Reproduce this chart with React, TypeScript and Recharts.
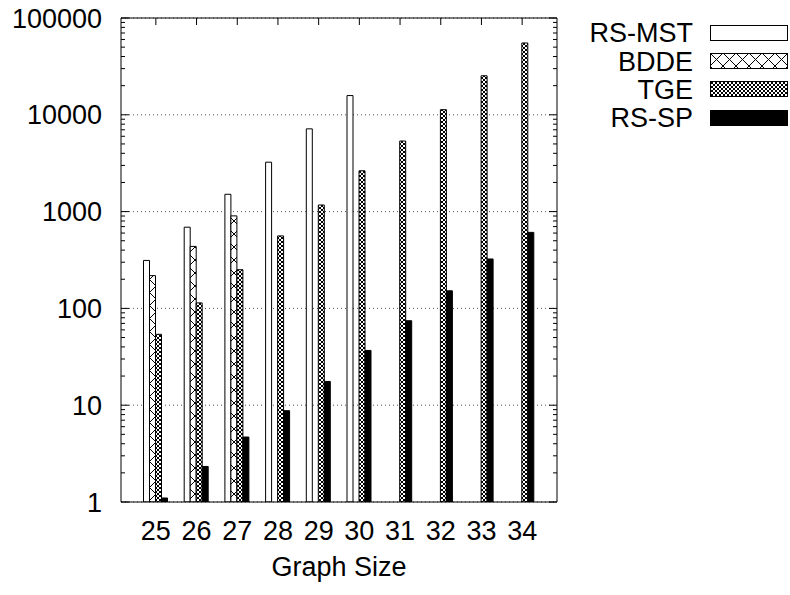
import { BarChart, Bar, XAxis, YAxis, CartesianGrid } from "recharts"

const FONT = '"Liberation Sans", Arial, Helvetica, sans-serif'

// graph sizes on the x axis
const sizes = [25, 26, 27, 28, 29, 30, 31, 32, 33, 34]

// run times per method (log scale, missing = not run)
const rsMst = [313, 690, 1510, 3240, 7160, 15800, null, null, null, null]
const bdde = [218, 437, 903, null, null, null, null, null, null, null]
const tge = [54, 114, 251, 561, 1170, 2640, 5360, 11300, 25300, 55200]
const rsSp = [1.1, 2.33, 4.69, 8.77, 17.6, 36.8, 74.6, 152, 324, 610]

const yTicks = [1, 10, 100, 1000, 10000, 100000]
const yMinorTicks = yTicks.slice(0, -1).flatMap((m) => [2, 3, 4, 5, 6, 7, 8, 9].map((k) => k * m))
const yAllTicks = [...yTicks, ...yMinorTicks].sort((a, b) => a - b)

const data = sizes.map((s, i) => ({
  size: String(s),
  rsMst: rsMst[i],
  bdde: bdde[i],
  tge: tge[i],
  rsSp: rsSp[i],
}))

const series = [
  { key: "rsMst", name: "RS-MST", fill: "#ffffff" },
  { key: "bdde", name: "BDDE", fill: "url(#bddePat)" },
  { key: "tge", name: "TGE", fill: "url(#tgePat)" },
  { key: "rsSp", name: "RS-SP", fill: "#000000" },
]

const W = 790
const H = 595
const MARGIN = { top: 18, right: 233, bottom: 0, left: 8 }
const TICK_GAP = 19
const PLOT_RIGHT = W - MARGIN.right
const xPad = { left: 14.5, right: 14.5 }

// y tick: label on majors, inward marks on both sides (gnuplot style)
function YTick(props: any) {
  const { x, y, payload } = props
  const v = payload.value
  const major = yTicks.includes(v)
  const len = major ? 8 : 4
  const left = x + TICK_GAP
  return (
    <g>
      <line x1={left} x2={left + len} y1={y} y2={y} stroke="#000" />
      <line x1={PLOT_RIGHT - len} x2={PLOT_RIGHT} y1={y} y2={y} stroke="#000" />
      {major ? (
        <text x={x} y={y} dy="0.355em" textAnchor="end" fontSize={27} fill="#000" fontFamily={FONT}>
          {v}
        </text>
      ) : null}
    </g>
  )
}

// x tick: label below, short mark hanging from the top border
function XTick(props: any) {
  const { x, y, payload } = props
  return (
    <g>
      <line x1={x} x2={x} y1={MARGIN.top} y2={MARGIN.top + 7} stroke="#000" />
      <text x={x} y={y} dy="0.71em" textAnchor="middle" fontSize={27} fill="#000" fontFamily={FONT}>
        {payload.value}
      </text>
    </g>
  )
}

function LegendBox() {
  return (
    <div style={{ position: "absolute", left: 560, top: 19, width: 230, fontFamily: FONT }}>
      {series.map((s) => (
        <div key={s.key} style={{ display: "flex", alignItems: "center", height: 28.4 }}>
          <span style={{ width: 133, textAlign: "right", fontSize: 27, lineHeight: "28px", color: "#000" }}>
            {s.name}
          </span>
          <svg width={79} height={17} style={{ marginLeft: 17, display: "block" }}>
            <rect x={0.5} y={0.5} width={77} height={15} fill={s.fill} stroke="#000" />
          </svg>
        </div>
      ))}
    </div>
  )
}

export default function App() {
  return (
    <div style={{ position: "absolute", left: 0, top: 0, width: W, height: H, background: "#fff", fontFamily: FONT }}>
      <BarChart width={W} height={H} data={data} margin={MARGIN} barGap={0} barSize={6}>
        <defs>
          <pattern id="bddePat" width={13} height={13} patternUnits="userSpaceOnUse">
            <rect width={13} height={13} fill="#fff" />
            <path d="M0,0 L13,13 M13,0 L0,13" stroke="#000" strokeWidth={1} />
          </pattern>
          <pattern id="tgePat" width={4} height={4} patternUnits="userSpaceOnUse">
            <rect width={4} height={4} fill="#fff" />
            <path d="M0,0 L4,4 M4,0 L0,4" stroke="#000" strokeWidth={1} />
          </pattern>
        </defs>
        <CartesianGrid vertical={false} horizontalValues={yTicks} stroke="#555" strokeDasharray="1 3" />
        {/* top and right border of the plot box */}
        <CartesianGrid
          stroke="#000"
          horizontalCoordinatesGenerator={({ offset }: any) => [offset.top]}
          verticalCoordinatesGenerator={({ offset }: any) => [offset.left + offset.width]}
        />
        <XAxis
          dataKey="size"
          padding={xPad}
          height={93}
          interval={0}
          tickLine={false}
          tickSize={0}
          tickMargin={TICK_GAP}
          stroke="#000"
          tick={<XTick />}
          label={{ value: "Graph Size", position: "insideBottom", offset: 19, fill: "#000", fontSize: 27 }}
        />
        <YAxis
          scale="log"
          domain={[1, 100000]}
          allowDataOverflow
          ticks={yAllTicks}
          interval={0}
          width={113}
          tickLine={false}
          tickSize={0}
          tickMargin={TICK_GAP}
          stroke="#000"
          tick={<YTick />}
        />
        {series.map((s) => (
          <Bar
            key={s.key}
            dataKey={s.key}
            name={s.name}
            fill={s.fill}
            stroke="#000"
            strokeWidth={1}
            isAnimationActive={false}
          />
        ))}
      </BarChart>
      <LegendBox />
    </div>
  )
}
